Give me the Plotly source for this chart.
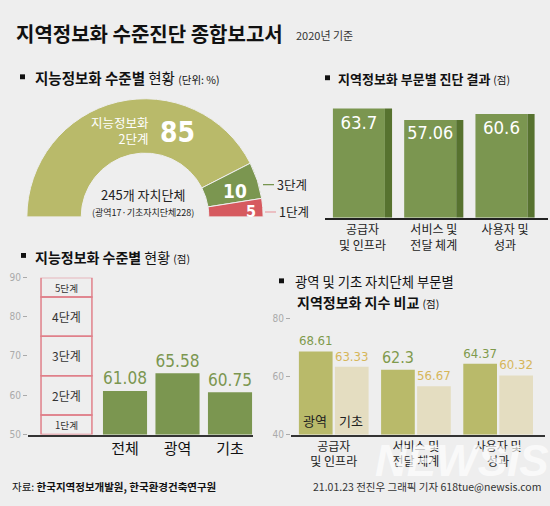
import plotly.graph_objects as go

W, H = 550, 506
def X(p): return p / W
def Y(p): return 1 - p / H

KR = "Noto Sans CJK KR, Noto Sans, sans-serif"
NUM = "Liberation Sans Narrow, DejaVu Sans Condensed, Arial Narrow, Noto Sans CJK KR, sans-serif"

BG = "#eeeeee"
OLIVE = "#b9ba6a"
GREEN = "#7b9650"
DARK = "#57722f"
RED = "#d65a5f"
BEIGE = "#e4ddc1"
GOLD = "#d6b65a"
PINK = "#e0808a"

# ---- data ----
donut_labels = ["2단계", "3단계", "1단계"]
donut_values = [85, 10, 5]
total_units = 245
unit_breakdown = "(광역17·기초자치단체228)"

sector_cats = ["공급자<br>및 인프라", "서비스 및<br>전달 체계", "사용자 및<br>성과"]
sector_vals = [63.7, 57.06, 60.6]

level_cats = ["전체", "광역", "기초"]
level_vals = [61.08, 65.58, 60.75]
level_names = ["1단계", "2단계", "3단계", "4단계", "5단계"]
level_base = [50, 55, 65, 75, 85]
level_span = [5, 10, 10, 10, 5]

cmp_cats = ["공급자<br>및 인프라", "서비스 및<br>전달 체계", "사용자 및<br>성과"]
cmp_gwangyeok = [68.61, 62.3, 64.37]
cmp_gicho = [63.33, 56.67, 60.32]
cmp_names = ["광역", "기초"]

fig = go.Figure()

# ---- donut (half pie) ----
cx, cy, R = 145, 216, 121
fig.add_trace(go.Pie(
    values=donut_values + [sum(donut_values)],
    labels=donut_labels + [""],
    marker=dict(colors=[OLIVE, GREEN, RED, "rgba(0,0,0,0)"],
                line=dict(color=BG, width=[1, 1, 1, 0])),
    sort=False, direction="clockwise", rotation=270, hole=0.54,
    textinfo="none", hoverinfo="skip", showlegend=False,
    domain=dict(x=[X(cx - R), X(cx + R)], y=[Y(cy + R), Y(cy - R)]),
))

# ---- chart 2: sector results ----
x_idx = [0, 1, 2]
fig.add_trace(go.Bar(
    x=x_idx, y=sector_vals, width=0.73, offset=-0.415,
    marker=dict(color=GREEN, line=dict(width=0)),
    text=[f"{v:g}" for v in sector_vals], textposition="inside",
    insidetextanchor="end", textangle=0,
    textfont=dict(family=NUM, size=18.5, color="white"),
    xaxis="x", yaxis="y", showlegend=False, hoverinfo="skip"))
fig.add_trace(go.Bar(
    x=x_idx, y=sector_vals, width=0.1, offset=0.315,
    marker=dict(color=DARK, line=dict(width=0)),
    xaxis="x", yaxis="y", showlegend=False, hoverinfo="skip"))

# ---- chart 3: level boxes and bars ----
fig.add_trace(go.Bar(
    x=[0] * len(level_names), y=level_span, base=level_base,
    width=0.97, offset=-0.6,
    marker=dict(color="rgba(0,0,0,0)", line=dict(color=PINK, width=1.5)),
    text=level_names, textposition="inside", insidetextanchor="middle",
    textangle=0, textfont=dict(family=KR, size=12, color="#333"),
    xaxis="x2", yaxis="y2", showlegend=False, hoverinfo="skip"))
fig.add_trace(go.Bar(
    x=[1, 2, 3], y=level_vals, width=0.84,
    marker=dict(color=GREEN, line=dict(width=0)),
    text=[f"{v:.2f}" for v in level_vals], textposition="outside",
    textfont=dict(family=NUM, size=18, color=GREEN), cliponaxis=False,
    xaxis="x2", yaxis="y2", showlegend=False, hoverinfo="skip"))

# ---- chart 4: comparison ----
fig.add_trace(go.Bar(
    x=x_idx, y=cmp_gwangyeok, width=0.41, offset=-0.424,
    marker=dict(color=OLIVE, line=dict(width=0)), name=cmp_names[0],
    text=[f"{v:g}" for v in cmp_gwangyeok], textposition="outside",
    textfont=dict(family=NUM, size=16, color="#7f9a4c"), cliponaxis=False,
    xaxis="x3", yaxis="y3", showlegend=False, hoverinfo="skip"))
fig.add_trace(go.Bar(
    x=x_idx, y=cmp_gicho, width=0.41, offset=0.014,
    marker=dict(color=BEIGE, line=dict(width=0)), name=cmp_names[1],
    text=[f"{v:g}" for v in cmp_gicho], textposition="outside",
    textfont=dict(family=NUM, size=16, color=GOLD), cliponaxis=False,
    xaxis="x3", yaxis="y3", showlegend=False, hoverinfo="skip"))

noaxis = dict(showgrid=False, zeroline=False)

fig.update_layout(
    width=W, height=H, margin=dict(l=0, r=0, t=0, b=0),
    paper_bgcolor=BG, plot_bgcolor="rgba(0,0,0,0)",
    barmode="overlay", font=dict(family=KR, color="#222"),
    xaxis=dict(domain=[X(325), X(548)], range=[-0.526, 2.603], anchor="y",
               tickvals=x_idx, ticktext=sector_cats, ticks="",
               showline=True, linecolor="#222", linewidth=1.5,
               tickfont=dict(family=KR, size=12, color="#222"), **noaxis),
    yaxis=dict(domain=[Y(217), Y(94)], range=[0, 70], anchor="x",
               visible=False, **noaxis),
    xaxis2=dict(domain=[X(28), X(253)], range=[-0.848, 3.438], anchor="y2",
                tickvals=[1, 2, 3], ticktext=level_cats, ticks="",
                showline=True, linecolor="#333", linewidth=1.5,
                tickfont=dict(family=KR, size=15, color="#111"), **noaxis),
    yaxis2=dict(domain=[Y(439), Y(278)], range=[50, 90], anchor="x2",
                tickvals=[50, 60, 70, 80, 90], ticks="outside", ticklen=4,
                tickcolor="#aaa", showline=False,
                tickfont=dict(family=NUM, size=10, color="#aaa"), **noaxis),
    xaxis3=dict(domain=[X(291), X(545)], range=[-0.52, 2.57], anchor="y3",
                tickvals=x_idx, ticktext=cmp_cats, ticks="",
                showline=True, linecolor="#333", linewidth=1.5,
                tickfont=dict(family=KR, size=12, color="#222"), **noaxis),
    yaxis3=dict(domain=[Y(439), Y(320)], range=[40, 80], anchor="x3",
                tickvals=[40, 60, 80], ticks="outside", ticklen=4,
                tickcolor="#aaa", showline=False,
                tickfont=dict(family=NUM, size=10, color="#aaa"), **noaxis),
)

shapes = []
for (x0, y0) in [(20, 70), (325, 71), (21, 253), (279, 279)]:
    shapes.append(dict(type="rect", xref="paper", yref="paper",
                       x0=X(x0), x1=X(x0 + 5), y0=Y(y0), y1=Y(y0 + 5),
                       fillcolor="#111", line=dict(width=0)))
shapes.append(dict(type="line", xref="paper", yref="paper",
                   x0=X(263), x1=X(274), y0=Y(183), y1=Y(183),
                   line=dict(color="#6f8f45", width=1.2)))
shapes.append(dict(type="line", xref="paper", yref="paper",
                   x0=X(265), x1=X(276), y0=Y(211), y1=Y(211),
                   line=dict(color="#eaa0a6", width=1.2)))
fig.update_layout(shapes=shapes)

def ann(x, y, text, size, color="#111", family=KR, xanchor="left", align="left", **kw):
    fig.add_annotation(x=X(x), y=Y(y), xref="paper", yref="paper", text=text,
                       showarrow=False, xanchor=xanchor, yanchor="middle",
                       align=align, font=dict(family=family, size=size, color=color), **kw)

ann(14, 28, "<b>지역정보화 수준진단 종합보고서</b>", 20)
ann(294, 30, "2020년 기준", 11, "#333")

ann(33, 73, "<b>지능정보화 수준별</b> 현황 <span style='font-size:10.5px'>(단위: %)</span>", 14.5)
ann(336, 74, "<b>지역정보화 부문별 진단 결과</b> <span style='font-size:10.5px'>(점)</span>", 13)
ann(33, 257, "<b>지능정보화 수준별</b> 현황 <span style='font-size:10.5px'>(점)</span>", 14)
ann(293, 282, "광역 및 기초 자치단체 부문별", 13.3)
ann(295, 303, "<b>지역정보화 지수 비교</b> <span style='font-size:10.5px'>(점)</span>", 14)

# donut labels
ann(151, 128, "지능정보화<br>2단계", 12.5, "white", xanchor="right", align="right")
ann(158, 130, f"<b>{donut_values[0]}</b>", 28, "white", family=NUM)
ann(235, 190, f"<b>{donut_values[1]}</b>", 19, "white", family=NUM, xanchor="center")
ann(251, 211, f"<b>{donut_values[2]}</b>", 16, "white", family=NUM, xanchor="center")
ann(275, 183, donut_labels[1], 12.5, "#222")
ann(277, 211, donut_labels[2], 12.5, "#222")
ann(143, 193, f"{total_units}개 자치단체", 13, "#222", xanchor="center")
ann(143, 212, unit_breakdown, 9, "#222", xanchor="center")

# series labels inside first comparison bars
ann(315, 425, cmp_names[0], 13, "#222", xanchor="center")
ann(351, 425, cmp_names[1], 13, "#222", xanchor="center")

# watermark
fig.add_annotation(x=X(462), y=Y(466), xref="paper", yref="paper", text="<b><i>NEWSIS</i></b>",
                   showarrow=False, xanchor="center", yanchor="middle",
                   font=dict(family="Liberation Sans, sans-serif", size=44, color="rgba(255,255,255,0.7)"))

# footer
ann(10, 492, "자료: <b>한국지역정보개발원, 한국환경건축연구원</b>", 10.5, "#111")
ann(543, 492, "21.01.23 전진우 그래픽 기자 618tue@newsis.com", 10.5, "#333", xanchor="right")

fig.write_html("out.html", config={"displayModeBar": False},
               post_script="document.body.style.margin='0';document.body.style.overflow='hidden';")
